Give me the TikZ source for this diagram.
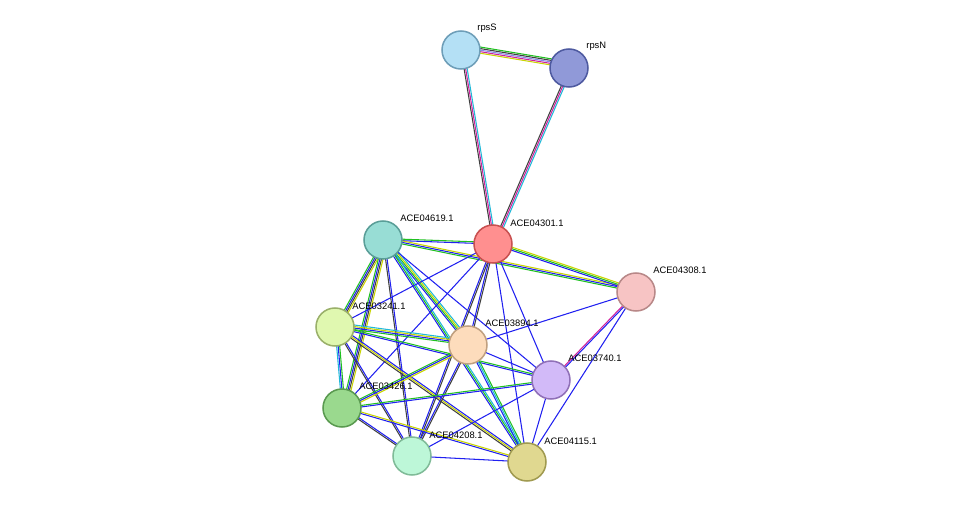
\documentclass[tikz,border=0pt]{standalone}
\usepackage{fontspec}
\setmainfont{Liberation Sans}
\usetikzlibrary{calc, backgrounds}

\definecolor{ctm}{HTML}{C8D400}
\definecolor{cex}{HTML}{D0209C}
\definecolor{cdb}{HTML}{20B8D8}
\definecolor{cco}{HTML}{2020F0}
\definecolor{cnb}{HTML}{20C020}
\definecolor{cce}{HTML}{404040}
\definecolor{chm}{HTML}{8888E8}

\tikzset{
	prot/.style={circle, minimum size=1.14cm, line width=1.3pt, inner sep=0pt},
	plab/.style={font=\fontsize{8}{9}\selectfont, inner sep=1pt, anchor=south west},
	lk/.style={line width=0.9pt}
}

% edge made of parallel coloured lines
\newcommand\lnk[3]{%
	\foreach \c [count=\i] in {#3}{%
		\draw[\c, lk] ($(#1)!{(\i-1)*1.3pt}!90:(#2)$) -- ($(#2)!{(\i-1)*1.3pt}!-90:(#1)$);}}

\begin{document}
\begin{tikzpicture}[x=0.03cm, y=-0.03cm]
	\useasboundingbox (0,0) rectangle (975,507);

	%proteins
	\node[prot, fill={rgb,255:red,180;green,224;blue,245}, draw={rgb,255:red,110;green,158;blue,184}] (rpsS) at (461,50) {};
	\node[prot, fill={rgb,255:red,144;green,153;blue,216}, draw={rgb,255:red,78;green,90;blue,160}] (rpsN) at (569,68) {};
	\node[prot, fill={rgb,255:red,152;green,221;blue,213}, draw={rgb,255:red,90;green,158;blue,152}] (a4619) at (383,240) {};
	\node[prot, fill={rgb,255:red,255;green,143;blue,143}, draw={rgb,255:red,200;green,80;blue,80}] (a4301) at (493,244) {};
	\node[prot, fill={rgb,255:red,247;green,196;blue,196}, draw={rgb,255:red,184;green,136;blue,136}] (a4308) at (636,292) {};
	\node[prot, fill={rgb,255:red,224;green,248;blue,176}, draw={rgb,255:red,154;green,176;blue,106}] (a3241) at (335,327) {};
	\node[prot, fill={rgb,255:red,253;green,220;blue,188}, draw={rgb,255:red,192;green,160;blue,128}] (a3894) at (468,345) {};
	\node[prot, fill={rgb,255:red,210;green,186;blue,248}, draw={rgb,255:red,144;green,112;blue,184}] (a3740) at (551,380) {};
	\node[prot, fill={rgb,255:red,154;green,217;blue,142}, draw={rgb,255:red,90;green,154;blue,80}] (a3426) at (342,408) {};
	\node[prot, fill={rgb,255:red,189;green,247;blue,216}, draw={rgb,255:red,128;green,187;blue,152}] (a4208) at (412,456) {};
	\node[prot, fill={rgb,255:red,224;green,216;blue,144}, draw={rgb,255:red,160;green,154;blue,80}] (a4115) at (527,462) {};

	%labels
	\node[plab] (lrpsS) at (476,34) {rpsS};
	\node[plab] (lrpsN) at (585,52) {rpsN};
	\node[plab] (l4619) at (399,223) {ACE04619.1};
	\node[plab] (l4301) at (509,228) {ACE04301.1};
	\node[plab] (l4308) at (652,275) {ACE04308.1};
	\node[plab] (l3241) at (351,311) {ACE03241.1};
	\node[plab] (l3894) at (484,328) {ACE03894.1};
	\node[plab] (l3740) at (567,363) {ACE03740.1};
	\node[plab] (l3426) at (358,391) {ACE03426.1};
	\node[plab] (l4208) at (428,440) {ACE04208.1};
	\node[plab] (l4115) at (543,446) {ACE04115.1};

	\begin{pgfonlayer}{background}
	\lnk{rpsS}{rpsN}{ctm,cex,chm,cce,cnb}
	\lnk{rpsS}{a4301}{cce,cex,cdb}
	\lnk{rpsN}{a4301}{cce,cex,cdb}
	\lnk{a4619}{a4301}{cco,cnb}
	\lnk{a4619}{a4308}{cnb,cco,ctm}
	\lnk{a4301}{a4308}{cco,cnb,ctm}
	\lnk{a4619}{a3241}{cnb,cco,cce,ctm}
	\lnk{a4619}{a3426}{cnb,cco,cce,ctm}
	\lnk{a4619}{a4208}{cce,cco}
	\lnk{a4619}{a3894}{cco,cnb,ctm,cdb}
	\lnk{a4619}{a4115}{cco,cnb,cdb}
	\lnk{a4619}{a3740}{cco}
	\lnk{a4301}{a3241}{cco}
	\lnk{a4301}{a3894}{cco,cce}
	\lnk{a4301}{a3426}{cco}
	\lnk{a4301}{a4208}{cco,cce}
	\lnk{a4301}{a3740}{cco}
	\lnk{a4301}{a4115}{cco}
	\lnk{a4308}{a3894}{cco}
	\lnk{a4308}{a3740}{cex,cco}
	\lnk{a4308}{a4115}{cco}
	\lnk{a3241}{a3894}{cnb,cco,ctm,cdb}
	\lnk{a3241}{a3740}{cco,cnb}
	\lnk{a3241}{a3426}{cdb,cco,cnb}
	\lnk{a3241}{a4208}{cce,cco}
	\lnk{a3241}{a4115}{cce,ctm,cco}
	\lnk{a3894}{a3426}{cnb,cco,ctm}
	\lnk{a3894}{a4208}{cco,cce}
	\lnk{a3894}{a4115}{cco,cdb,cnb}
	\lnk{a3894}{a3740}{cco}
	\lnk{a3740}{a3426}{cnb,cco}
	\lnk{a3740}{a4208}{cco}
	\lnk{a3740}{a4115}{cco}
	\lnk{a3426}{a4208}{cce,cco}
	\lnk{a3426}{a4115}{cco,ctm}
	\lnk{a4208}{a4115}{cco}
	\end{pgfonlayer}
\end{tikzpicture}
\end{document}
